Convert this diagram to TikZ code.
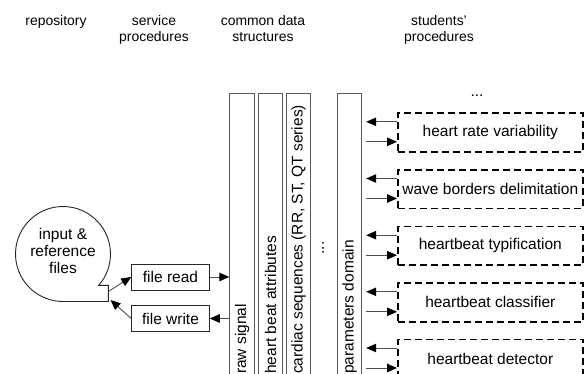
\documentclass[tikz,border=0pt]{standalone}
\usepackage{fontspec}
\setmainfont{Liberation Sans}
\usetikzlibrary{arrows.meta,calc}
\begin{document}
\begin{tikzpicture}[x=1pt,y=-1pt,
  txt/.style={font=\fontsize{15.5}{17}\selectfont, inner sep=0pt},
  hdr/.style={font=\fontsize{13.9}{16}\selectfont, inner sep=0pt, anchor=base},
  lbox/.style={draw=black!85, line width=0.9pt, minimum width=77.6pt, minimum height=26pt, inner sep=0pt, font=\fontsize{15.5}{17}\selectfont},
  bar/.style={draw=black!65, line width=0.9pt, minimum width=24.5pt, minimum height=320pt, anchor=north, inner sep=0pt},
  dbox/.style={draw=black, line width=1.6pt, dash pattern=on 7pt off 4pt, minimum width=185pt, minimum height=38.7pt, anchor=north west, inner sep=0pt, font=\fontsize{15.5}{17}\selectfont},
  arr/.style={draw=black!70, line width=0.9pt, -{Triangle[length=10pt,width=8.5pt,fill=black,color=black]}}
]
\useasboundingbox (0,0) rectangle (584,374);
\clip (0,0) rectangle (584,374);
\fill[white] (0,0) rectangle (584,374);

% headers
\node[hdr] (h1) at (56,25.5) {repository};
\node[hdr] (h2a) at (154,25.5) {service};
\node[hdr] (h2b) at (154,41.5) {procedures};
\node[hdr] (h3a) at (263,25.5) {common data};
\node[hdr] (h3b) at (263,41.5) {structures};
\node[hdr] (h4a) at (439,25.5) {students'};
\node[hdr] (h4b) at (439,41.5) {procedures};

% repository symbol
\coordinate (cc) at (63,254);
\draw[black!85, line width=0.9pt] ($(cc)+(-41.4:47.5pt)$) arc[start angle=-41.4, end angle=270, radius=47.5pt]
  -- (108.3,301.5) -- (108.3,285.4) -- cycle;
\node[txt, align=center] (repo) at (63,251) {input \&\\reference\\files};
\coordinate (c1) at (108.3,291.5);
\coordinate (c2) at (110.5,300);

% service procedures
\node[lbox] (fr) at (170.5,277) {file read};
\node[lbox] (fw) at (170.5,318.5) {file write};

% data structures
\node[bar] (raw) at (242,93) {};
\node[bar] (hba) at (270.5,93) {};
\node[bar] (car) at (298.5,93) {};
\node[bar] (par) at (349.5,93) {};
\node[txt, rotate=90, anchor=west] (rawl) at (242,374) {raw signal};
\node[txt, rotate=90, anchor=west] (hbal) at (270.5,374) {heart beat attributes};
\node[txt, rotate=90, anchor=west] (carl) at (298.5,374) {cardiac sequences (RR, ST, QT series)};
\node[txt, rotate=90, anchor=west] (parl) at (349.5,374) {parameters domain};
\node[txt, rotate=90] (dots1) at (323,248) {...};

% students' procedures
\node[txt] (dots2) at (477,96) {...};
\node[dbox] (b1) at (397,112.3) {heart rate variability};
\node[dbox] (b2) at (397,169) {wave borders delimitation};
\node[dbox] (b3) at (397,225.7) {heartbeat typification};
\node[dbox] (b4) at (397,282.3) {heartbeat classifier};
\node[dbox] (b5) at (397,338.5) {heartbeat detector};

% connectors
\draw[arr] (c1) -- (fr.west);
\draw[arr] (fw.west) -- (c2);
\draw[arr] (fr.east) -- (fr.east -| raw.west);
\draw[arr] (fw.east -| raw.west) -- (fw.east);
\foreach \n in {1,...,5} {
  \draw[arr, shorten >=4pt] ($(b\n.north west)+(0,9.5)$) -- ($(par.east |- b\n.north west)+(0,9.5)$);
  \draw[arr, shorten <=4pt] ($(par.east |- b\n.north west)+(0,29.5)$) -- ($(b\n.north west)+(0,29.5)$);
}
\end{tikzpicture}
\end{document}
